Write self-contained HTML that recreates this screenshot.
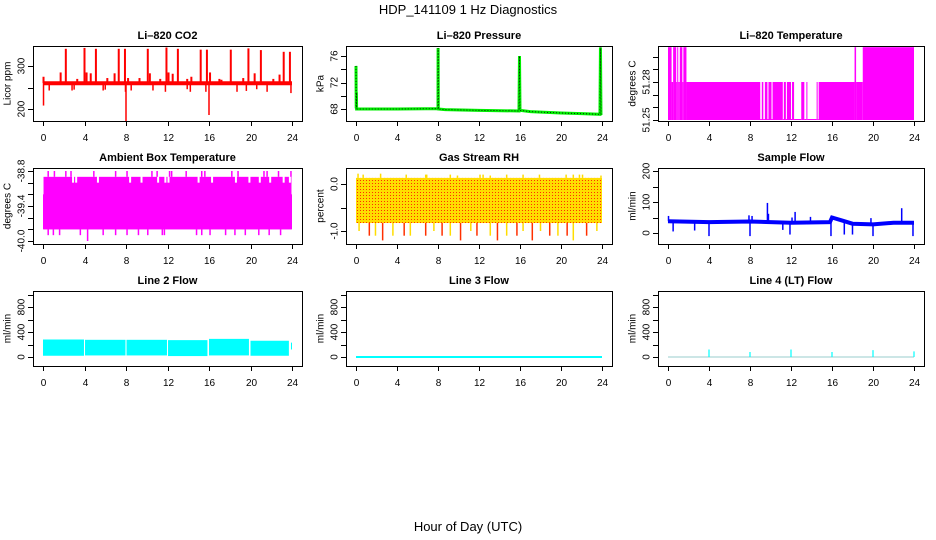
<!DOCTYPE html>
<html><head><meta charset="utf-8">
<style>
html,body{margin:0;padding:0;background:#fff;}
svg{display:block;font-family:"Liberation Sans",Arial,sans-serif;}
</style></head>
<body>
<svg id="fig" width="936" height="540" viewBox="0 0 936 540" xmlns="http://www.w3.org/2000/svg">
<defs>
<pattern id="rhpat" width="3" height="3" patternUnits="userSpaceOnUse">
<rect width="3" height="3" fill="#ffdd00"/><rect x="0" y="0" width="1" height="1" fill="#ff3000"/>
</pattern>
</defs>
<text x="468" y="14" text-anchor="middle" font-size="13">HDP_141109  1 Hz Diagnostics</text>
<text x="468" y="531" text-anchor="middle" font-size="13">Hour of Day (UTC)</text>
</svg>
<script>
// ---------- data ----------
const hourTicks=[0,4,8,12,16,20,24];
// CO2
const co2Base=260;
const co2UpT=[2.2,4.0,5.1,7.3,7.9,10.1,11.9,13.0,15.2,15.8,18.1,19.8,21.0,23.2,23.8,1.7,4.2,4.6,6.9,8.2,10.3,12.1,12.5,14.3,16.1,17.0,19.3,20.4,22.8,0.05,3.3,6.2,9.3,11.3,13.9,17.2,22.2];
const co2UpV=[340,342,340,340,340,340,343,340,338,338,338,341,337,333,333,285,285,283,283,272,283,285,282,275,285,270,272,283,280,275,270,272,272,270,270,268,270];
const co2DnT=[0.05,0.6,2.8,5.8,8.0,7.95,8.5,10.6,11.8,14.2,15.7,16.0,18.7,19.6,21.6,23.9,3.0,6.0,13.9,20.6];
const co2DnV=[208,243,243,243,172,240,243,243,240,240,240,186,240,242,240,237,245,245,246,246];
// Pressure
const presT=[0,0.02,0.04,0.06,0.1,4,8,8.01,8.03,8.7,12,15.9,15.95,16.0,17,20,22,23.8,23.85,23.9];
const presV=[74.5,68.1,70.5,68.0,68.0,68.0,68.05,77.2,68.0,67.9,67.8,67.7,76.0,67.8,67.6,67.4,67.3,67.2,77.3,67.1];
// Li-820 temperature step levels
const tempStart=[0,0.35,0.5,0.8,0.9,1.0,1.15,1.4,1.5,1.8,9.0,9.15,9.3,9.45,9.7,9.8,10.1,10.2,11.2,11.3,11.5,11.6,12.0,12.1,12.3,13.0,13.3,13.5,13.6,14.5,14.6,14.7,18.2,18.35,19.0];
const tempEnd  =[0.35,0.5,0.8,0.9,1.0,1.15,1.4,1.5,1.8,9.0,9.15,9.3,9.45,9.7,9.8,10.1,10.2,11.2,11.3,11.5,11.6,12.0,12.1,12.3,13.0,13.3,13.5,13.6,14.5,14.6,14.7,18.2,18.35,19.0,24.0];
const tempLevel=[51.3075,51.28,51.3075,51.28,51.3075,51.28,51.3075,51.28,51.3075,51.28,51.2505,51.28,51.2505,51.28,51.2505,51.28,51.2505,51.28,51.2505,51.28,51.2505,51.28,51.2505,51.28,51.2505,51.28,51.2505,51.28,51.2505,51.28,51.2505,51.28,51.3075,51.28,51.3075];
// Ambient box temperature
const ambLow=-39.8, ambHigh=-38.9;
const ambGapT=[2.8,3.1,5.2,8.3,9.4,11.0,11.7,12.0,14.9,16.2,18.5,19.8,20.8,21.8,23.1,23.7];
const ambUpT=[0.5,1.1,2.2,2.7,4.9,7.0,8.1,10.5,11.0,12.2,12.4,13.8,15.3,15.6,18.2,18.8,21.3,21.6,22.7,23.9];
const ambDnT=[0.5,1.0,1.6,3.6,4.3,5.8,7.0,8.1,9.2,10.1,11.5,11.7,14.8,15.3,16.1,17.6,18.5,19.5,20.8,21.8,22.9];
const ambDnV=[-39.9,-39.9,-39.9,-39.9,-40.0,-39.9,-39.9,-39.9,-39.9,-39.9,-39.9,-39.9,-39.9,-39.9,-39.9,-39.9,-39.9,-39.9,-39.9,-39.9,-39.9];
// Gas stream RH
const rhLow=-0.83, rhHigh=0.13;
const rhUpT=[0.2,0.7,2.4,4.9,6.8,6.9,9.2,9.9,12.1,12.4,13.1,14.7,16.3,17.9,20.5,21.2,21.8,22.1,23.9];
const rhUpV=[0.22,0.2,0.22,0.2,0.2,0.2,0.2,0.18,0.2,0.2,0.18,0.2,0.2,0.2,0.2,0.2,0.2,0.2,0.18];
const rhDnT=[0.3,1.3,1.9,2.6,3.6,4.7,5.3,6.8,7.6,8.4,9.2,10.2,11.2,11.8,13.1,13.8,14.7,15.7,16.3,17.2,18.0,18.9,19.7,20.6,21.2,22.5,23.5];
const rhDnV=[-1.0,-1.1,-1.1,-1.2,-1.1,-1.1,-1.1,-1.1,-1.0,-1.1,-1.1,-1.2,-1.0,-1.1,-1.1,-1.2,-1.1,-1.1,-1.0,-1.2,-1.0,-1.1,-1.1,-1.1,-1.2,-1.1,-1.0];
// Sample flow
const sfT=[0,4,8,12,15.8,16.0,17,18,20,22,24];
const sfV=[38,35,37,33,35,50,40,30,28,33,33];
const sfSpkT=[0.05,0.5,2.6,4.0,7.9,8.0,8.2,9.7,9.8,11.2,11.9,12.1,12.4,13.9,15.9,16.1,17.2,18.0,19.8,20.0,22.8,23.9];
const sfSpkV=[55,5,8,-10,57,-10,55,97,62,10,-5,50,68,52,-10,55,-5,-5,48,-10,80,-10];
// Line 2 flow blocks
const l2Start=[0.0,4.05,8.05,12.05,16.0,20.0,23.9];
const l2End  =[3.95,7.95,11.95,15.85,19.85,23.7,24.0];
const l2Top  =[280,275,275,270,290,260,230];
const l2Bot  =[20,25,25,15,25,20,120];
// Line 3
const l3T=[0,24]; const l3V=[0,0];
// Line 4 spikes
const l4SpkT=[4,8,12,16,20,24];
const l4SpkV=[120,80,120,80,110,90];

// ---------- helpers ----------
const NS="http://www.w3.org/2000/svg";
const svg=document.getElementById('fig');
function mk(tag,attrs,parent){const e=document.createElementNS(NS,tag);for(const k in attrs)e.setAttribute(k,attrs[k]);(parent||svg).appendChild(e);return e;}
const cols=[[33,302],[346,612],[658,924]];
const rows=[[46,121],[168,244],[291,366]];
function panel(name,c,r,title,ylab,a1,a2,yticks,ylabels){
  const [L,R]=cols[c],[T,B]=rows[r];
  const g=mk('g',{});
  
  
  const x=h=>L+10+(h/24)*(R-L-20);
  const y=v=>a1[1]+(v-a1[0])*(a2[1]-a1[1])/(a2[0]-a1[0]);
  const t=mk('text',{x:(L+R)/2,y:T-7,'text-anchor':'middle','font-size':11,'font-weight':'bold'},g);t.textContent=title;
  
  
  const cx=L-26,cy=(T+B)/2;
  const yl=mk('text',{x:cx,y:cy,'text-anchor':'middle','font-size':10,transform:`rotate(-90 ${cx} ${cy})`,dy:'0.35em'},g);yl.textContent=ylab;
  
  
  const dg=mk('g',{},g);
  
  
  const ag=mk('g',{},g);
  
  
  mk('rect',{x:L+0.5,y:T+0.5,width:R-L,height:B-T,fill:'none',stroke:'#000','stroke-width':1},ag);
  mk('line',{x1:x(0),x2:x(24),y1:B+0.5,y2:B+0.5,stroke:'#000'},ag);
  hourTicks.forEach(h=>{const px=Math.round(x(h))+0.5;mk('line',{x1:px,x2:px,y1:B,y2:B+5,stroke:'#000'},ag);
    const tl=mk('text',{x:px,y:B+20,'text-anchor':'middle','font-size':10},ag);tl.textContent=h;});
  yticks.forEach(v=>{const py=Math.round(y(v))+0.5;mk('line',{x1:L-5,x2:L,y1:py,y2:py,stroke:'#000'},ag);});
  ylabels.forEach(s=>{const py=y(parseFloat(s)),lx=L-12;
    const tl=mk('text',{x:lx,y:py,'text-anchor':'middle','font-size':10,dy:'0.35em',transform:`rotate(-90 ${lx} ${py})`},ag);tl.textContent=s;});
  return {g:dg,x,y,L,R,T,B};
}
function vseg(p,t,v1,v2,col,w){const px=p.x(t);return mk('line',{x1:px,x2:px,y1:p.y(v1),y2:p.y(v2),stroke:col,'stroke-width':w||1.2},p.g);}
function clip(p,id){const cp=mk('clipPath',{id:id});mk('rect',{x:p.L,y:p.T,width:p.R-p.L,height:p.B-p.T},cp);p.g.setAttribute('clip-path','url(#'+id+')');}

// ---------- CO2 ----------
let p=panel('co2',0,0,'Li–820 CO2','Licor ppm',[200,109],[300,66],[200,250,300],['200','300']);
clip(p,'c1');
mk('line',{x1:p.x(0),x2:p.x(24),y1:p.y(co2Base),y2:p.y(co2Base),stroke:'#ff0000','stroke-width':4},p.g);
co2UpT.forEach((t,i)=>vseg(p,t,co2Base,co2UpV[i],'#ff0000',2));
co2DnT.forEach((t,i)=>vseg(p,t,co2Base,co2DnV[i],'#ff0000',1.5));

// ---------- Pressure ----------
p=panel('pressure',1,0,'Li–820 Pressure','kPa',[68,109],[76,56],[68,70,72,74,76],['68','72','76']);
clip(p,'c2');
const pp=presT.map((t,i)=>p.x(t)+','+p.y(presV[i])).join(' ');
mk('polyline',{points:pp,fill:'none',stroke:'#00ee00','stroke-width':3},p.g);
mk('polyline',{points:pp,fill:'none',stroke:'#000','stroke-width':0.8,'stroke-dasharray':'1,2'},p.g);

// ---------- Li-820 Temperature ----------
p=panel('li820-temp',2,0,'Li–820 Temperature','degrees C',[51.25,120],[51.28,82],[51.25,51.26,51.27,51.28,51.29,51.30],['51.25','51.28']);
clip(p,'c3');
tempStart.forEach((s,i)=>{const lv=tempLevel[i];const y1=p.y(lv),y0=p.y(51.25);
  mk('rect',{x:p.x(s),y:Math.min(y1,y0-1),width:Math.max(p.x(tempEnd[i])-p.x(s),0.5),height:Math.max(y0-y1,1),fill:'#ff00ff'},p.g);});

// ---------- Ambient box temperature ----------
p=panel('ambient-temp',0,1,'Ambient Box Temperature','degrees C',[-38.8,171],[-40.0,241],[-38.8,-39.0,-39.2,-39.4,-39.6,-39.8,-40.0],['-38.8','-39.4','-40.0']);
clip(p,'c4');
mk('rect',{x:p.x(0.05),y:p.y(ambHigh),width:p.x(23.95)-p.x(0.05),height:p.y(ambLow)-p.y(ambHigh),fill:'#ff00ff'},p.g);
mk('rect',{x:p.x(0),y:p.y(-39.2),width:p.x(24)-p.x(0),height:p.y(-39.8)-p.y(-39.2),fill:'#ff00ff'},p.g);
ambGapT.forEach(t=>{mk('rect',{x:p.x(t),y:p.y(ambHigh)-0.5,width:2,height:p.y(-39.0)-p.y(ambHigh)+0.5,fill:'#fff'},p.g);});
ambUpT.forEach(t=>vseg(p,t,ambHigh,-38.8,'#ff00ff',1.5));
ambDnT.forEach((t,i)=>vseg(p,t,ambLow,ambDnV[i],'#ff00ff',1.5));

// ---------- Gas stream RH ----------
p=panel('gas-rh',1,1,'Gas Stream RH','percent',[0,184],[-1,231],[0,-0.5,-1],['0.0','-1.0']);
clip(p,'c5');
mk('rect',{x:p.x(0),y:p.y(rhHigh),width:p.x(24)-p.x(0),height:p.y(rhLow)-p.y(rhHigh),fill:'url(#rhpat)'},p.g);
rhUpT.forEach((t,i)=>vseg(p,t,rhHigh,rhUpV[i],'#ffdd00',1.5));
rhDnT.forEach((t,i)=>vseg(p,t,rhLow,rhDnV[i],i%2?'#ff3000':'#ffdd00',1.5));

// ---------- Sample flow ----------
p=panel('sample-flow',2,1,'Sample Flow','ml/min',[0,233],[200,171],[0,50,100,150,200],['0','100','200']);
clip(p,'c6');
mk('polyline',{points:sfT.map((t,i)=>p.x(t)+','+p.y(sfV[i])).join(' '),fill:'none',stroke:'#0000ff','stroke-width':4},p.g);
sfSpkT.forEach((t,i)=>{let b=sfV[0];for(let k=0;k<sfT.length;k++)if(sfT[k]<=t)b=sfV[k];vseg(p,t,b,sfSpkV[i],'#0000ff',1.5);});

// ---------- Line 2 ----------
p=panel('line2-flow',0,2,'Line 2 Flow','ml/min',[0,357],[800,307],[0,200,400,600,800,1000],['0','400','800']);
clip(p,'c7');
l2Start.forEach((s,i)=>{mk('rect',{x:p.x(s),y:p.y(l2Top[i]),width:p.x(l2End[i])-p.x(s),height:p.y(l2Bot[i])-p.y(l2Top[i]),fill:'#00ffff'},p.g);});

// ---------- Line 3 ----------
p=panel('line3-flow',1,2,'Line 3 Flow','ml/min',[0,357],[800,307],[0,200,400,600,800,1000],['0','400','800']);
clip(p,'c8');
mk('polyline',{points:l3T.map((t,i)=>p.x(t)+','+p.y(l3V[i])).join(' '),fill:'none',stroke:'#00ffff','stroke-width':2},p.g);

// ---------- Line 4 ----------
p=panel('line4-flow',2,2,'Line 4 (LT) Flow','ml/min',[0,357],[800,307],[0,200,400,600,800,1000],['0','400','800']);
clip(p,'c9');
mk('line',{x1:p.x(0),x2:p.x(24),y1:p.y(0),y2:p.y(0),stroke:'#99cccc','stroke-width':1},p.g);
l4SpkT.forEach((t,i)=>vseg(p,t,0,l4SpkV[i],'#00ffff',1.2));
</script>
</body></html>
